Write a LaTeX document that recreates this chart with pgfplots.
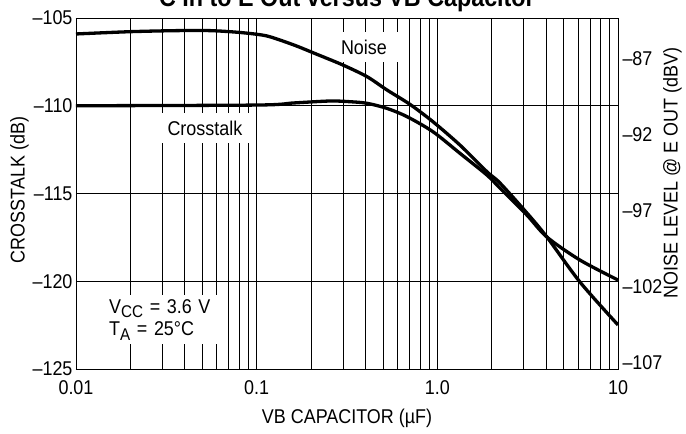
\documentclass[border=0pt]{standalone}
\usepackage{fontspec}
\setmainfont{Liberation Sans}[FakeStretch=0.9]
\usepackage{pgfplots}
\pgfplotsset{compat=1.18}
\begin{document}
\begin{tikzpicture}
\begin{axis}[
  at={(76bp,65bp)}, anchor=south west,
  scale only axis, width=542bp, height=351bp,
  xmode=log, xmin=0.01, xmax=10,
  major tick length=0pt, minor tick length=0pt,
  tick label style={font=\fontsize{20}{22}\selectfont},
  label style={font=\fontsize{20}{22}\selectfont},
  axis line style={black, line width=0.8bp},
  ymin=-125, ymax=-105,
  xtick={0.01,0.1,1,10}, xticklabels={0.01,0.1,1.0,10},
  ytick={-125,-120,-115,-110,-105},
  yticklabels={\textendash125,\textendash120,\textendash115,\textendash110,\textendash105},
  xmajorgrids, xminorgrids, ymajorgrids,
  major grid style={black, line width=0.6bp},
  minor grid style={black, line width=0.6bp},
  xticklabel style={yshift=-8bp},
  xlabel={VB CAPACITOR (µF)},
  xlabel style={yshift=-8bp},
  ylabel={CROSSTALK (dB)},
  ylabel style={at={(ticklabel cs:0.51,-3bp)}},
]
\node[fill=white, inner sep=0pt, minimum width=72bp, minimum height=30bp,
  font=\fontsize{20}{22}\selectfont] at (axis cs:0.3926,-106.65) {Noise};
\node[fill=white, inner sep=0pt, minimum width=100bp, minimum height=30bp,
  font=\fontsize{20}{22}\selectfont] at (axis cs:0.0517,-111.27) {Crosstalk};
\node[fill=white, anchor=north west, text width=106bp, align=left,
  inner xsep=6bp, inner ysep=4bp, font=\fontsize{20}{23}\selectfont]
  at (axis cs:0.0141,-120.78)
  {V\raisebox{-0.4ex}{\fontsize{17}{18}\selectfont CC} = 3.6 V\\
   T\raisebox{-0.4ex}{\fontsize{17}{18}\selectfont A} = 25°C};
% Noise
\addplot[black, line width=3.3bp, smooth] coordinates {
(0.01,-105.91) (0.0199,-105.78) (0.0362,-105.72) (0.0552,-105.72) (0.0778,-105.81)
(0.1004,-105.93) (0.1185,-106.07) (0.1609,-106.54) (0.2157,-107.07) (0.3002,-107.68)
(0.4077,-108.34) (0.526,-109.10) (0.7055,-109.92) (0.9456,-110.91) (1.334,-112.24)
(1.882,-113.76) (2.221,-114.40) (3.132,-116.11) (4.041,-117.48) (6.154,-120.04) (10,-122.49)
};
% Crosstalk
\addplot[black, line width=3.3bp, smooth] coordinates {
(0.01,-110.0) (0.1004,-109.96) (0.1609,-109.84) (0.2545,-109.73) (0.3283,-109.77)
(0.4077,-109.86) (0.526,-110.15) (0.679,-110.62) (0.9456,-111.48) (1.334,-112.71)
(1.882,-113.95) (2.221,-114.69) (3.132,-116.23) (4.041,-117.48) (6.154,-118.79) (10,-119.93)
};
\end{axis}
\begin{axis}[
  at={(76bp,65bp)}, anchor=south west,
  scale only axis, width=542bp, height=351bp,
  xmin=0, xmax=1,
  major tick length=0pt, minor tick length=0pt,
  tick label style={font=\fontsize{20}{22}\selectfont},
  label style={font=\fontsize{20}{22}\selectfont},
  axis line style={black, line width=0.8bp},
  axis x line=none, axis y line*=right,
  ymin=-107.4, ymax=-84.3,
  ytick={-107,-102,-97,-92,-87},
  yticklabels={\textendash107,\textendash102,\textendash97,\textendash92,\textendash87},
  yticklabel style={xshift=1bp},
  ylabel={NOISE LEVEL @ E OUT (dBV)},
  ylabel style={at={(ticklabel cs:0.558,-6bp)}},
]
\addplot[draw=none] coordinates {(0,-100) (1,-100)};
\end{axis}
\node[anchor=base, font=\bfseries\fontsize{26}{28}\selectfont] at (347bp,427bp)
  {C In to E Out versus VB Capacitor};
\pgfresetboundingbox
\path[use as bounding box] (0bp,0bp) rectangle (686bp,434bp);
\end{tikzpicture}
\end{document}
